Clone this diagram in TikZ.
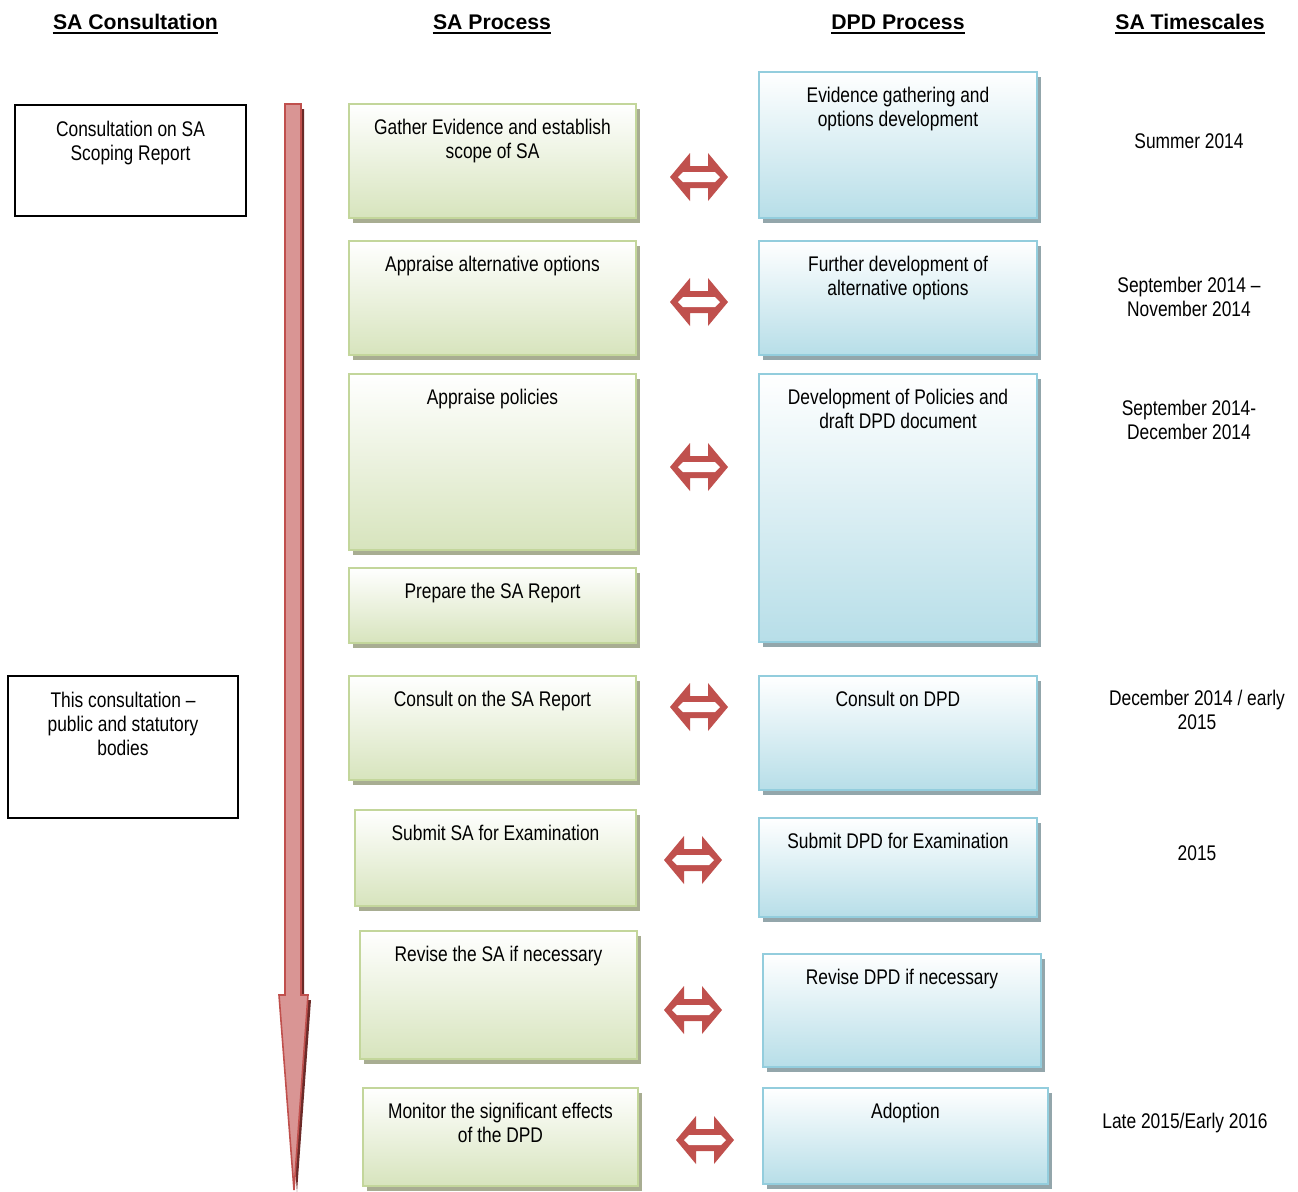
\documentclass[tikz,border=0pt]{standalone}
\usepackage{fontspec}
\setmainfont{Liberation Sans}
\newfontfamily\narrow[FakeStretch=0.82]{Liberation Sans}
\usetikzlibrary{fit,shadows,positioning}
\definecolor{gborder}{HTML}{C3D69B}
\definecolor{gfill}{HTML}{D7E4BD}
\definecolor{gmid}{HTML}{EBF1DE}
\definecolor{gshadow}{HTML}{A8AD92}
\definecolor{bborder}{HTML}{93CDDD}
\definecolor{bfill}{HTML}{B7DEE8}
\definecolor{bmid}{HTML}{DBEEF3}
\definecolor{bshadow}{HTML}{93A6AB}
\definecolor{arrowred}{HTML}{C0504D}
\definecolor{pinkred}{HTML}{D99594}
\definecolor{midred}{HTML}{C55653}
\definecolor{darkred}{HTML}{6B2A28}
\tikzset{
  gbox/.style={inner sep=0pt, draw=gborder, line width=1.3pt,
    top color=white, middle color=gmid, bottom color=gfill,
    drop shadow={shadow xshift=2pt, shadow yshift=-2.5pt, fill=gshadow, opacity=1}},
  bbox/.style={inner sep=0pt, draw=bborder, line width=1.3pt,
    top color=white, middle color=bmid, bottom color=bfill,
    drop shadow={shadow xshift=2pt, shadow yshift=-2.5pt, fill=bshadow, opacity=1}},
  lbox/.style={inner sep=0pt, draw=black, line width=0.9pt},
  txt/.style={font=\narrow\fontsize{10.6}{12}\selectfont, align=center, inner sep=0pt},
  boxtxt/.style={txt, anchor=north},
  head/.style={font=\bfseries\fontsize{10.6}{12}\selectfont, inner sep=0pt, anchor=base},
  uline/.style={line width=0.9pt},
  dblarrow/.pic={
    \fill[arrowred] (-29,0) -- (-9,-24) -- (-9,-11) -- (9,-11) -- (9,-24) -- (29,0)
       -- (9,24) -- (9,11) -- (-9,11) -- (-9,24) -- cycle;
    \fill[white] (-21,0) -- (-16,-5) -- (16,-5) -- (21,0) -- (16,5) -- (-16,5) -- cycle;
  }
}
\begin{document}
\begin{tikzpicture}[x=0.5pt,y=-0.5pt]
\useasboundingbox[fill=white] (0,0) rectangle (1298,1191);

% headers
\node[head] (h1) at (135.5,29) {SA Consultation};
\node[head] (h2) at (492,29) {SA Process};
\node[head] (h3) at (898,29) {DPD Process};
\node[head] (h4) at (1190,29) {SA Timescales};
\foreach \h in {h1,h2,h3,h4}
  \draw[uline] ([yshift=-1.7pt]\h.south west) -- ([yshift=-1.7pt]\h.south east);

% vertical arrow
\fill[darkred] (288,109) -- (304,109) -- (304,1000) -- (311,1000) -- (297,1192) -- (282,1000) -- (288,1000) -- cycle;
\shade[top color=pinkred, middle color=midred, bottom color=pinkred, draw=arrowred, line width=0.8pt]
  (285,104) -- (301,104) -- (301,995) -- (308,995) -- (294,1190) -- (279,995) -- (285,995) -- cycle;

% left boxes
\node[lbox, fit={(15,105) (246,216)}] (l1) {};
\node[boxtxt, below=8.2pt of l1.north] (l1t) {Consultation on SA\\Scoping Report};
\node[lbox, fit={(8,676) (238,818)}] (l2) {};
\node[boxtxt, below=8.2pt of l2.north] (l2t) {This consultation –\\public and statutory\\bodies};

% SA process boxes
\node[gbox, fit={(349,104) (636,218)}] (g1) {};
\node[boxtxt, below=8.2pt of g1.north] {Gather Evidence and establish\\scope of SA};
\node[gbox, fit={(349,241) (636,355)}] (g2) {};
\node[boxtxt, below=8.2pt of g2.north] {Appraise alternative options};
\node[gbox, fit={(349,374) (636,550)}] (g3) {};
\node[boxtxt, below=8.2pt of g3.north] {Appraise policies};
\node[gbox, fit={(349,568) (636,643)}] (g4) {};
\node[boxtxt, below=8.2pt of g4.north] {Prepare the SA Report};
\node[gbox, fit={(349,676) (636,780)}] (g5) {};
\node[boxtxt, below=8.2pt of g5.north] {Consult on the SA Report};
\node[gbox, fit={(355,810) (636,906)}] (g6) {};
\node[boxtxt, below=8.2pt of g6.north] {Submit SA for Examination};
\node[gbox, fit={(360,931) (637,1059)}] (g7) {};
\node[boxtxt, below=8.2pt of g7.north] {Revise the SA if necessary};
\node[gbox, fit={(363,1088) (638,1186)}] (g8) {};
\node[boxtxt, below=8.2pt of g8.north] {Monitor the significant effects\\of the DPD};

% DPD process boxes
\node[bbox, fit={(759,72) (1037,218)}] (b1) {};
\node[boxtxt, below=8.2pt of b1.north] {Evidence gathering and\\options development};
\node[bbox, fit={(759,241) (1037,355)}] (b2) {};
\node[boxtxt, below=8.2pt of b2.north] {Further development of\\alternative options};
\node[bbox, fit={(759,374) (1037,642)}] (b3) {};
\node[boxtxt, below=8.2pt of b3.north] {Development of Policies and\\draft DPD document};
\node[bbox, fit={(759,676) (1037,790)}] (b4) {};
\node[boxtxt, below=8.2pt of b4.north] {Consult on DPD};
\node[bbox, fit={(759,818) (1037,917)}] (b5) {};
\node[boxtxt, below=8.2pt of b5.north] {Submit DPD for Examination};
\node[bbox, fit={(763,954) (1041,1067)}] (b6) {};
\node[boxtxt, below=8.2pt of b6.north] {Revise DPD if necessary};
\node[bbox, fit={(763,1088) (1048,1184)}] (b7) {};
\node[boxtxt, below=8.2pt of b7.north] {Adoption};

% double arrows
\pic at (699,177) {dblarrow};
\pic at (699,302) {dblarrow};
\pic at (699,467) {dblarrow};
\pic at (699,707) {dblarrow};
\pic at (693,860) {dblarrow};
\pic at (693,1010) {dblarrow};
\pic at (705,1140) {dblarrow};

% timescales
\node[txt] (t1) at (1189,141) {Summer 2014};
\node[txt] (t2) at (1189,297) {September 2014 –\\November 2014};
\node[txt] (t3) at (1189,420) {September 2014-\\December 2014};
\node[txt] (t4) at (1197,710) {December 2014 / early\\2015};
\node[txt] (t5) at (1197,853) {2015};
\node[txt] (t6) at (1185,1123) {Late 2015/Early 2016};
\end{tikzpicture}
\end{document}
